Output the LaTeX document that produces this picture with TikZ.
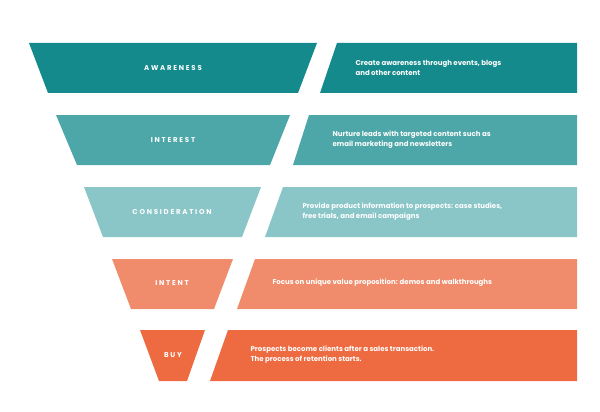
\documentclass[tikz,border=0pt]{standalone}
\usepackage{fontspec}
\setmainfont{Poppins}
\usetikzlibrary{positioning, calc}
\definecolor{tealA}{HTML}{148A8C}
\definecolor{tealB}{HTML}{4DA6A7}
\definecolor{tealC}{HTML}{8AC6C8}
\definecolor{coralA}{HTML}{F08C6C}
\definecolor{coralB}{HTML}{EE6A40}
\begin{document}
\begin{tikzpicture}[
    x=1pt, y=-1pt,
    stage/.style={text=white, font=\fontsize{7}{8}\selectfont\bfseries\addfontfeatures{LetterSpace=25}},
    info/.style={text=white, anchor=west, align=left, font=\fontsize{7}{10}\selectfont\bfseries}
]
    \useasboundingbox (0,0) rectangle (600,412);

    % Awareness
    \fill [tealA] (29,43) -- (317,43) -- (298,93) -- (48,93) -- cycle;
    \fill [tealA] (337,43) -- (577,43) -- (577,93) -- (320,93) -- cycle;
    \node [stage] (awareness) at (173,68) {AWARENESS};
    \node [info] (awarenessinfo) at (352,68) {Create awareness through events, blogs\\and other content};

    % Interest
    \fill [tealB] (56,115) -- (290,115) -- (270,165) -- (77,165) -- cycle;
    \fill [tealB] (309,115) -- (577,115) -- (577,165) -- (293,165) -- cycle;
    \node [stage] (interest) at (173,140) {INTEREST};
    \node [info] (interestinfo) at (329,140) {Nurture leads with targeted content such as\\email marketing and newsletters};

    % Consideration
    \fill [tealC] (84,187) -- (261,187) -- (242,237) -- (103,237) -- cycle;
    \fill [tealC] (283,187) -- (577,187) -- (577,237) -- (265,237) -- cycle;
    \node [stage] (consideration) at (172,212) {CONSIDERATION};
    \node [info] (considerationinfo) at (299,212) {Provide product information to prospects: case studies,\\free trials, and email campaigns};

    % Intent
    \fill [coralA] (112,259) -- (233,259) -- (214,309) -- (131,309) -- cycle;
    \fill [coralA] (255,259) -- (577,259) -- (577,309) -- (237,309) -- cycle;
    \node [stage] (intent) at (172,283) {INTENT};
    \node [info] (intentinfo) at (269,283) {Focus on unique value proposition: demos and walkthroughs};

    % Buy
    \fill [coralB] (140,330) -- (205,330) -- (187,381) -- (159,381) -- cycle;
    \fill [coralB] (228,330) -- (577,330) -- (577,381) -- (210,381) -- cycle;
    \node [stage] (buy) at (173,355) {BUY};
    \node [info] (buyinfo) at (247,355) {Prospects become clients after a sales transaction.\\The process of retention starts.};
\end{tikzpicture}
\end{document}
